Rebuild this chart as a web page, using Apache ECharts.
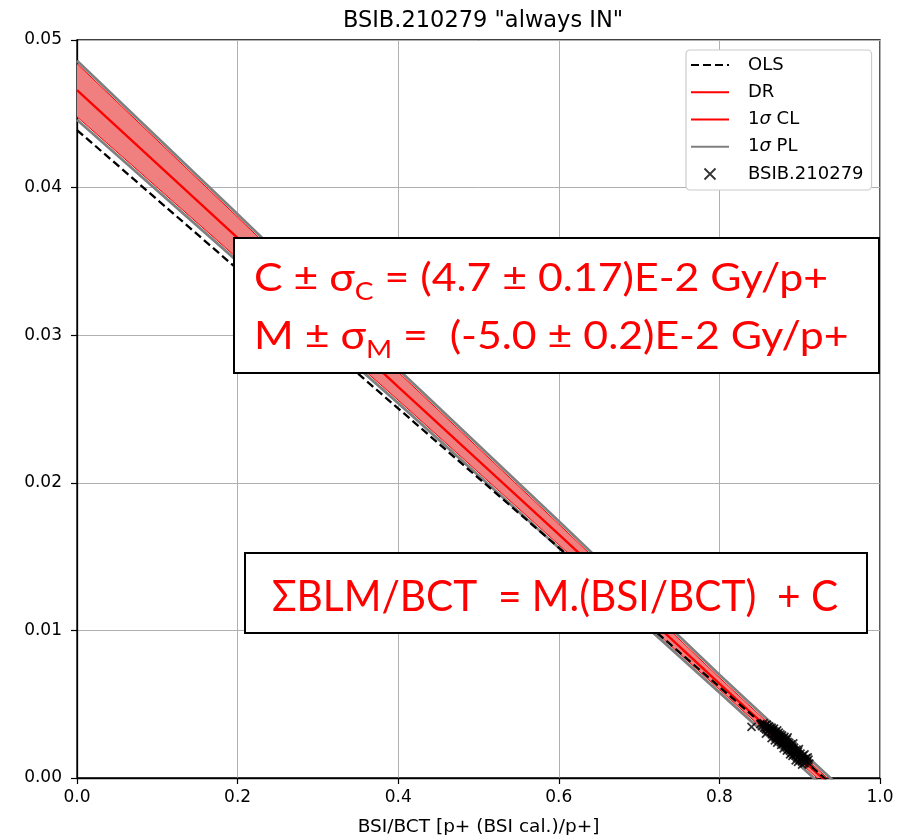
<!DOCTYPE html>
<html>
<head>
<meta charset="utf-8">
<script src="https://cdn.jsdelivr.net/npm/echarts@6/dist/echarts.min.js"></script>
<style>html,body{margin:0;padding:0;background:#fff;}#c{width:902px;height:835px;}</style>
</head>
<body>
<div id="c"></div>
<script>
// ---- data ----
const xTicks = [0.0, 0.2, 0.4, 0.6, 0.8, 1.0];
const yTicks = [0.00, 0.01, 0.02, 0.03, 0.04, 0.05];

const olsX = [0, 0.95];
const olsY = [0.0439, -0.0009];

const bandX   = [0, 0.2, 0.4, 0.6, 0.8, 0.95];
const drY     = [0.0466, 0.0366, 0.0265, 0.0165, 0.0064, -0.0011];
const clUpper = [0.0484, 0.0380, 0.0275, 0.0172, 0.0068, -0.0008];
const clLower = [0.0448, 0.0352, 0.0256, 0.0158, 0.0060, -0.0014];
const plUpper = [0.0486, 0.0382, 0.0277, 0.0174, 0.0070, -0.0006];
const plLower = [0.0446, 0.0350, 0.0254, 0.0156, 0.0058, -0.0016];

const bsiX = [0.840,
 0.851,0.853,0.855,0.856,0.857,0.858,0.859,0.860,0.861,0.862,
 0.863,0.864,0.865,0.866,0.866,0.867,0.868,0.868,0.869,0.870,
 0.870,0.871,0.872,0.872,0.873,0.874,0.874,0.875,0.876,0.876,
 0.877,0.877,0.878,0.879,0.879,0.880,0.881,0.881,0.882,0.882,
 0.883,0.884,0.884,0.885,0.886,0.886,0.887,0.888,0.888,0.889,
 0.890,0.890,0.891,0.892,0.893,0.893,0.894,0.895,0.896,0.897,
 0.897,0.898,0.899,0.900,0.901,0.902,0.903,0.904,0.905,0.906,
 0.908,0.909,0.911,0.912,
 0.858,0.865,0.872,0.880,0.885,0.888,0.892,0.895,0.899,0.903,
 0.906,0.910,0.869,0.877,0.884,0.891,0.898];
const blmY = [0.00347,
 0.00365,0.00352,0.00371,0.00340,0.00358,0.00330,0.00362,0.00345,0.00322,0.00350,
 0.00335,0.00312,0.00341,0.00298,0.00326,0.00318,0.00305,0.00335,0.00289,0.00312,
 0.00276,0.00300,0.00322,0.00268,0.00290,0.00308,0.00255,0.00281,0.00296,0.00262,
 0.00245,0.00275,0.00288,0.00252,0.00232,0.00268,0.00240,0.00278,0.00222,0.00255,
 0.00236,0.00262,0.00210,0.00245,0.00226,0.00198,0.00238,0.00215,0.00185,0.00228,
 0.00200,0.00172,0.00215,0.00188,0.00160,0.00205,0.00178,0.00150,0.00192,0.00165,
 0.00138,0.00180,0.00150,0.00125,0.00165,0.00140,0.00112,0.00152,0.00128,0.00100,
 0.00135,0.00112,0.00125,0.00098,
 0.00300,0.00270,0.00240,0.00200,0.00275,0.00160,0.00235,0.00120,0.00195,0.00090,
 0.00160,0.00140,0.00255,0.00225,0.00185,0.00150,0.00110];

const titleText = 'BSIB.210279 "always IN"';
const xLabel = 'BSI/BCT [p+ (BSI cal.)/p+]';
const legendNames = ['OLS', 'DR', '1σ CL', '1σ PL', 'BSIB.210279'];

// ---- build ----
const zip = (xs, ys) => xs.map((x, i) => [x, ys[i]]);
const crossPath = 'path://M0,0L10,10M10,0L0,10';
const FONT = 'DejaVu Sans';

const chart = echarts.init(document.getElementById('c'), null, {renderer: 'canvas'});

const bandPoly = bandX.map((x, i) => [x, clUpper[i]]).concat(
  bandX.map((x, i) => [x, clLower[i]]).reverse());

const hideSym = {opacity: 0};

const option = {
  animation: false,
  backgroundColor: '#fff',
  title: {
    text: titleText, left: 478, top: 5, textAlign: 'center',
    textStyle: {fontFamily: FONT, fontSize: 22.5, fontWeight: 'normal', color: '#000'}
  },
  grid: {left: 77, right: 22, top: 40, bottom: 57, show: true,
         outerBoundsMode: 'none', containLabel: false,
         borderColor: '#000', borderWidth: 1.3, backgroundColor: 'transparent'},
  xAxis: {
    type: 'value', min: 0, max: 1, interval: 0.2,
    name: xLabel, nameLocation: 'middle', nameGap: 40,
    nameTextStyle: {fontFamily: FONT, fontSize: 18.5, color: '#000'},
    axisLine: {lineStyle: {color: '#000', width: 1.3}},
    axisTick: {show: true, inside: false, length: 6, lineStyle: {color: '#000', width: 1.2}},
    axisLabel: {fontFamily: FONT, fontSize: 17, color: '#000', margin: 11,
                formatter: v => v.toFixed(1)},
    splitLine: {show: true, lineStyle: {color: '#b0b0b0', width: 1}}
  },
  yAxis: {
    type: 'value', min: 0, max: 0.05, interval: 0.01,
    axisLine: {lineStyle: {color: '#000', width: 1.3}},
    axisTick: {show: true, inside: false, length: 6, lineStyle: {color: '#000', width: 1.2}},
    axisLabel: {fontFamily: FONT, fontSize: 17, color: '#000', margin: 15,
                formatter: v => v.toFixed(2)},
    splitLine: {show: true, lineStyle: {color: '#b0b0b0', width: 1}}
  },
  legend: {
    left: 686, top: 50, orient: 'vertical',
    backgroundColor: '#fff', borderColor: '#cccccc', borderWidth: 1.2, borderRadius: 4,
    padding: [5, 8, 6, 4], itemGap: 7.25, itemWidth: 38, itemHeight: 11,
    textStyle: {fontFamily: FONT, fontSize: 18, color: '#000', lineHeight: 20,
                padding: [0, 0, 0, 14],
                rich: {i: {fontFamily: FONT, fontSize: 18, fontStyle: 'italic', color: '#000', lineHeight: 20}}},
    formatter: name => name.replace('σ', '{i|σ}'),
    data: [
      {name: legendNames[0], itemStyle: hideSym},
      {name: legendNames[1], itemStyle: hideSym},
      {name: legendNames[2], itemStyle: hideSym},
      {name: legendNames[3], itemStyle: hideSym},
      {name: legendNames[4], icon: crossPath,
       itemStyle: {color: 'transparent', borderColor: '#000', borderWidth: 1.8}}
    ]
  },
  series: [
    {
      name: 'band', type: 'custom', silent: true, z: 1,
      data: [0],
      renderItem: (params, api) => {
        const pts = bandPoly.map(p => api.coord(p));
        const cs = params.coordSys;
        return {
          type: 'polygon', shape: {points: pts},
          style: {fill: '#f08080', stroke: null},
          clipPath: {type: 'rect', shape: {x: cs.x, y: cs.y, width: cs.width, height: cs.height}}
        };
      }
    },
    {name: legendNames[3], type: 'line', data: zip(bandX, plUpper), symbol: 'none', z: 2,
     lineStyle: {color: '#808080', width: 2.8}, itemStyle: {color: '#808080'}},
    {name: legendNames[3], type: 'line', data: zip(bandX, plLower), symbol: 'none', z: 2,
     lineStyle: {color: '#808080', width: 2.8}, itemStyle: {color: '#808080'}},
    {name: legendNames[2], type: 'line', data: zip(bandX, clUpper), symbol: 'none', z: 3,
     lineStyle: {color: '#ff0000', width: 1}, itemStyle: {color: '#ff0000'}},
    {name: legendNames[2], type: 'line', data: zip(bandX, clLower), symbol: 'none', z: 3,
     lineStyle: {color: '#ff0000', width: 1}, itemStyle: {color: '#ff0000'}},
    {name: legendNames[1], type: 'line', data: zip(bandX, drY), symbol: 'none', z: 4,
     lineStyle: {color: '#ff0000', width: 2.3}, itemStyle: {color: '#ff0000'}},
    {name: legendNames[0], type: 'line', data: zip(olsX, olsY), symbol: 'none', z: 4,
     lineStyle: {color: '#000', width: 2.3, type: [8, 4]}, itemStyle: {color: '#000'}},
    {name: legendNames[4], type: 'scatter', data: zip(bsiX, blmY), z: 5,
     symbol: crossPath, symbolSize: 8,
     itemStyle: {color: 'transparent', borderColor: '#000', borderWidth: 1.8}}
  ],
  graphic: [
    {type: 'rect', z: 100, shape: {x: 234, y: 238, width: 645, height: 135},
     style: {fill: '#fff', stroke: '#000', lineWidth: 2}},
    {type: 'text', z: 101, x: 254, y: 279, scaleX: 1.125, scaleY: 1,
     style: {
       text: '{a|C ± σ}{s|C}{a| = (4.7 ± 0.17)E-2 Gy/p+}',
       verticalAlign: 'middle',
       rich: {
         a: {fontFamily: 'Lato', fontSize: 38, fill: '#ff0000'},
         s: {fontFamily: 'Lato', fontSize: 25, fill: '#ff0000', padding: [26, 0, 0, 0]}
       }
     }},
    {type: 'text', z: 101, x: 254, y: 337, scaleX: 1.125, scaleY: 1,
     style: {
       text: '{a|M ± σ}{s|M}{a| =  (-5.0 ± 0.2)E-2 Gy/p+}',
       verticalAlign: 'middle',
       rich: {
         a: {fontFamily: 'Lato', fontSize: 38, fill: '#ff0000'},
         s: {fontFamily: 'Lato', fontSize: 25, fill: '#ff0000', padding: [26, 0, 0, 0]}
       }
     }},
    {type: 'rect', z: 100, shape: {x: 245, y: 553, width: 622, height: 80},
     style: {fill: '#fff', stroke: '#000', lineWidth: 2}},
    {type: 'text', z: 101, x: 555, y: 597, scaleX: 0.967, scaleY: 1,
     style: {
       text: 'ΣBLM/BCT  = M.(BSI/BCT)  + C',
       align: 'center', verticalAlign: 'middle',
       fontFamily: 'Lato', fontSize: 42, fill: '#ff0000'
     }}
  ]
};
chart.setOption(option);
</script>
</body>
</html>
